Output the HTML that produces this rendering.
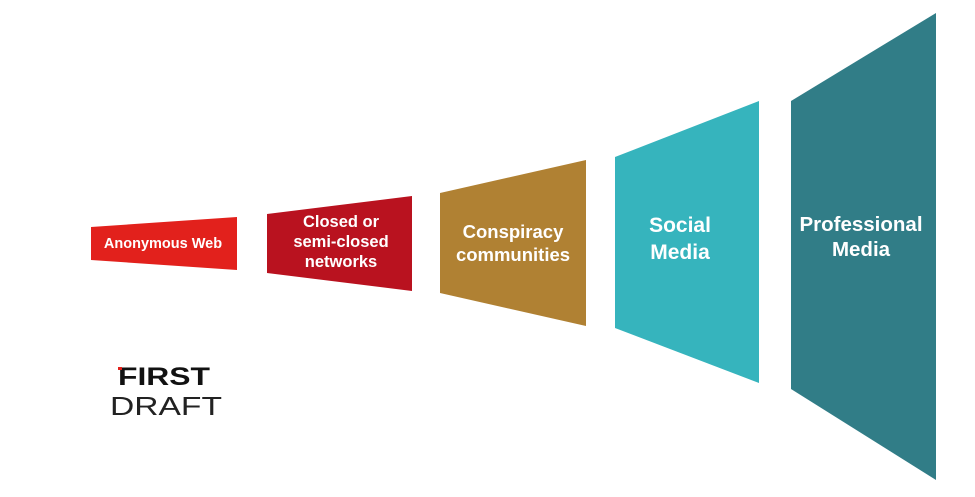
<!DOCTYPE html>
<html><head><meta charset="utf-8"><style>
html,body{margin:0;padding:0;background:#fff;}
svg{display:block;}
text{font-family:"Liberation Sans","DejaVu Sans",sans-serif;font-weight:bold;fill:#fff;text-anchor:middle;}
</style></head><body>
<svg width="975" height="497" viewBox="0 0 975 497" xmlns="http://www.w3.org/2000/svg">
<rect width="975" height="497" fill="#fff"/>
<polygon points="91,227 237,217 237,270 91,260" fill="#e2211c"/>
<polygon points="267,214 412,196 412,291 267,273" fill="#b9121f"/>
<polygon points="440,193 586,160 586,326 440,293" fill="#b08133"/>
<polygon points="615,157 759,101 759,383 615,328" fill="#36b4bd"/>
<polygon points="791,101 936,13 936,480 791,389" fill="#317d87"/>
<text x="163" y="248" font-size="14.5">Anonymous Web</text>
<text x="341" y="227" font-size="16.5">Closed or</text>
<text x="341" y="247" font-size="16.5">semi-closed</text>
<text x="341" y="267" font-size="16.5">networks</text>
<text x="513" y="238" font-size="18.5">Conspiracy</text>
<text x="513" y="261" font-size="18.5">communities</text>
<text x="680" y="232" font-size="21">Social</text>
<text x="680" y="259" font-size="21">Media</text>
<text x="861" y="231" font-size="20.5">Professional</text>
<text x="861" y="256" font-size="20.5">Media</text>
<text x="164" y="385" font-size="25" style="fill:#111;font-weight:900" textLength="92" lengthAdjust="spacingAndGlyphs">FIRST</text>
<text x="166" y="415" font-size="26" style="fill:#222;font-weight:normal" textLength="112" lengthAdjust="spacingAndGlyphs">DRAFT</text>
<rect x="118" y="367" width="4" height="3" fill="#e2211c"/>
</svg>
</body></html>
